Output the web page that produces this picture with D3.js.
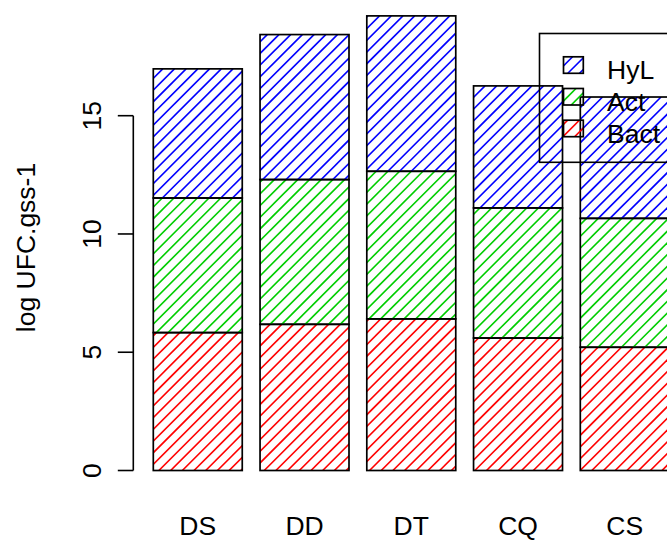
<!DOCTYPE html>
<html>
<head>
<meta charset="utf-8">
<script src="https://cdn.jsdelivr.net/npm/d3@7"></script>
<style>
  html, body { margin: 0; padding: 0; background: #fff; }
  svg { display: block; }
  text { font-family: "Liberation Sans", Arial, Helvetica, sans-serif; fill: #000; }
</style>
</head>
<body>
<svg id="chart" width="667" height="541"></svg>
<script>
// ---- data ----
const categories = ["DS", "DD", "DT", "CQ", "CS"];
const bact = [5.83, 6.18, 6.41, 5.60, 5.21];
const act  = [5.69, 6.12, 6.24, 5.50, 5.45];
const hyl  = [5.46, 6.13, 6.57, 5.16, 5.13];
const seriesNames  = ["Bact", "Act", "HyL"];
const seriesColors = ["#FF0000", "#00CD00", "#0000FF"];
const yTicks = [0, 5, 10, 15];
const yTitle = "log UFC.gss-1";

// ---- layout ----
const W = 667, H = 541;
const svg = d3.select("#chart");
const FONT = 26.5;

const unit = 88.96, x0px = 135.5;
const x = d3.scaleLinear().domain([0, 6]).range([x0px, x0px + 6 * unit]);
const y = d3.scaleLinear().domain([0, 15]).range([470.5, 115.7]);

const hatchSpacing = 11.7;           // horizontal distance between hatch lines
const HX = x(0), HY = y(0);          // hatch anchor (user origin)

const defs = svg.append("defs");
let clipId = 0;

function hatchRect(g, x1, y1, x2, y2, color) {
  const id = "clip" + (clipId++);
  defs.append("clipPath").attr("id", id)
    .append("rect").attr("x", x1).attr("y", y1).attr("width", x2 - x1).attr("height", y2 - y1);
  const hg = g.append("g").attr("clip-path", `url(#${id})`);
  const base = HX + HY;
  const kMin = Math.floor((x1 + y1 - base) / hatchSpacing) - 1;
  const kMax = Math.ceil((x2 + y2 - base) / hatchSpacing) + 1;
  const ks = d3.range(kMin, kMax + 1);
  hg.selectAll("line").data(ks).join("line")
    .attr("x1", k => base + k * hatchSpacing - y2).attr("y1", y2)
    .attr("x2", k => base + k * hatchSpacing - y1).attr("y2", y1)
    .attr("stroke", color).attr("stroke-width", 1.6);
  g.append("rect").attr("x", x1).attr("y", y1).attr("width", x2 - x1).attr("height", y2 - y1)
    .attr("fill", "none").attr("stroke", "#000").attr("stroke-width", 1.7);
}

// ---- bars ----
const series = [bact, act, hyl];
const barsG = svg.append("g");
categories.forEach((c, i) => {
  let cum = 0;
  const left = x(0.2 + i * 1.2), right = x(1.2 + i * 1.2);
  series.forEach((s, j) => {
    const lo = cum, hi = cum + s[i];
    hatchRect(barsG, left, y(hi), right, y(lo), seriesColors[j]);
    cum = hi;
  });
});

// ---- y axis ----
const axisG = svg.append("g");
const axisX = 133.3;
axisG.append("line").attr("x1", axisX).attr("x2", axisX)
  .attr("y1", y(yTicks[0])).attr("y2", y(yTicks[yTicks.length - 1]))
  .attr("stroke", "#000").attr("stroke-width", 1.6);
yTicks.forEach(t => {
  axisG.append("line").attr("x1", axisX - 15.5).attr("x2", axisX)
    .attr("y1", y(t)).attr("y2", y(t)).attr("stroke", "#000").attr("stroke-width", 1.6);
  axisG.append("text")
    .attr("transform", `translate(100.5,${y(t)}) rotate(-90)`)
    .attr("text-anchor", "middle").attr("font-size", FONT).text(t);
});
svg.append("text")
  .attr("transform", `translate(34.5,247.5) rotate(-90)`)
  .attr("text-anchor", "middle").attr("font-size", FONT).text(yTitle);

// ---- category labels ----
categories.forEach((c, i) => {
  svg.append("text").attr("x", x(0.7 + i * 1.2)).attr("y", 535)
    .attr("text-anchor", "middle").attr("font-size", FONT).text(c);
});

// ---- legend ----
const legG = svg.append("g");
legG.append("rect").attr("x", 539.5).attr("y", 33.5).attr("width", 200).attr("height", 128.8)
  .attr("fill", "none").attr("stroke", "#000").attr("stroke-width", 1.6);
const legOrder = [2, 1, 0];
legOrder.forEach((j, r) => {
  const base = 79.3 + r * 31.7;
  hatchRect(legG, 563.5, base - 22.5, 583.3, base - 6, seriesColors[j]);
  legG.append("text").attr("x", 607).attr("y", base).attr("font-size", FONT).text(seriesNames[j]);
});
</script>
</body>
</html>
